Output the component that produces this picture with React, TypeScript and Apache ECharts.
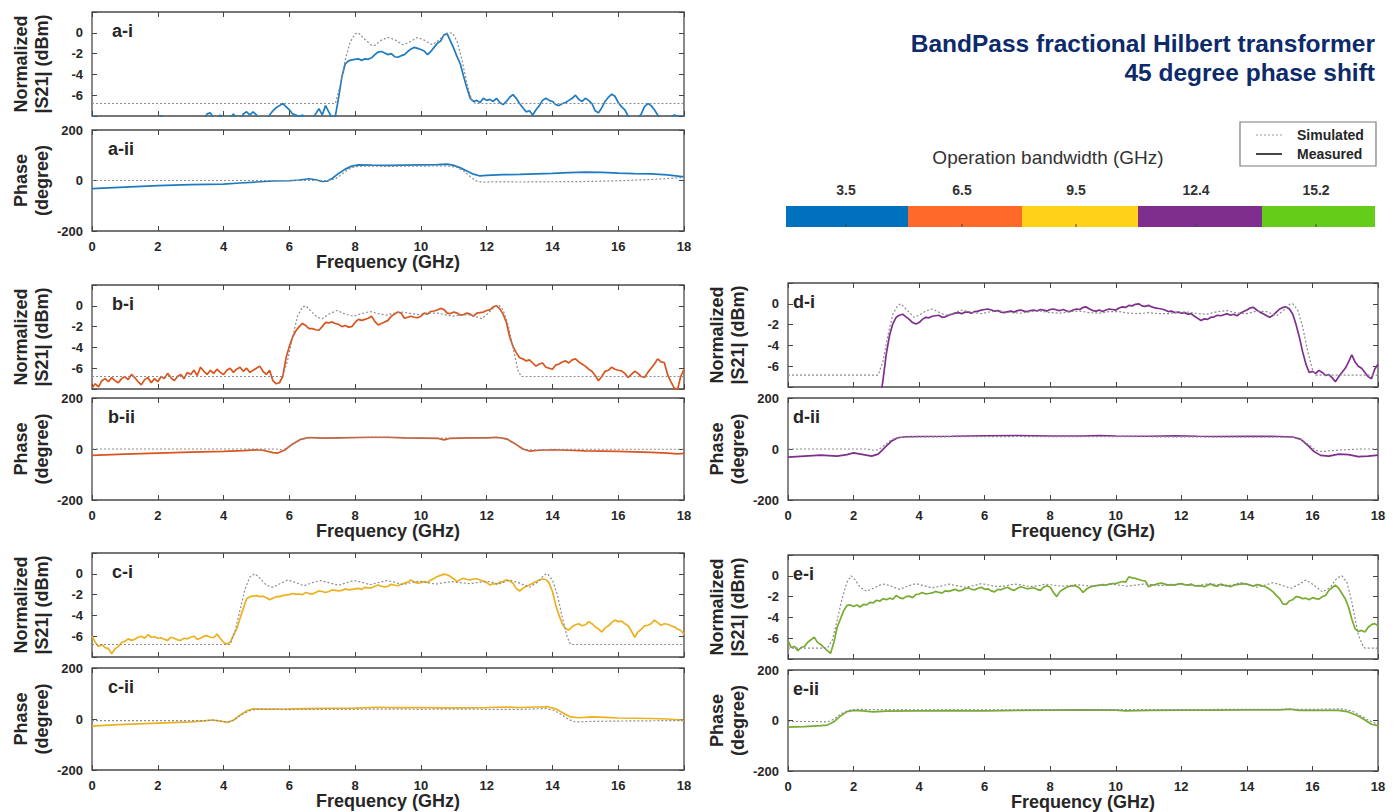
import React, { useEffect, useRef } from "react";
import * as echarts from "echarts";

const FONT = '"Liberation Sans", Arial, Helvetica, sans-serif';
const TEXT = "#262626";

// ---------- categories / labels ----------
const panelNames = ["a", "b", "c", "d", "e"];
const bandwidthLabels = ["3.5", "6.5", "9.5", "12.4", "15.2"];
const bandColors = ["#0072BD", "#FF6A2B", "#FFD21A", "#7E2F8E", "#66CC1A"];
const traceColors = ["#1f7bc0", "#d9541f", "#EDB120", "#7E2F8E", "#77AC30"];
const magTickLabels = ["0", "-2", "-4", "-6"];
const phaseTickLabels = ["200", "0", "-200"];

// ---------- measured |S21| (dB), sampled every 0.1 GHz from 0 to 18 GHz ----------
const magMeasA = [
  -8.0, -8.1, -8.6, -8.9, -8.7, -8.9, -9.0, -8.8, -8.9, -8.7,
  -8.8, -9.0, -8.7, -8.9, -8.8, -9.0, -8.8, -8.6, -8.9, -8.7,
  -8.5, -7.95, -8.4, -8.8, -8.9, -8.7, -9.0, -8.8, -8.9, -8.6,
  -8.8, -8.9, -8.7, -8.5, -8.3, -7.8, -7.7, -8.2, -8.5, -7.9,
  -8.4, -8.6, -8.2, -7.8, -8.3, -8.5, -7.8, -7.6, -7.9, -7.6,
  -7.9, -8.4, -8.6, -8.4, -7.9, -7.5, -7.2, -7.0, -6.8, -7.1,
  -7.4, -7.8, -7.9, -8.1, -7.9, -8.3, -8.6, -8.3, -7.8, -7.3,
  -7.9, -7.0, -7.6, -8.2, -8.0, -6.2, -4.2, -3.0, -2.7, -2.6,
  -2.55, -2.5, -2.65, -2.5, -2.55, -2.4, -2.1, -1.85, -1.8, -1.95,
  -2.1, -2.0, -2.3, -2.35, -2.2, -2.1, -1.8, -1.55, -1.4, -1.5,
  -1.6, -1.75, -2.1, -1.8, -1.4, -1.0, -0.8, -0.2, -0.1, -0.8,
  -1.5, -2.3, -3.0, -4.2, -5.3, -6.3, -6.6, -6.5, -6.7, -6.3,
  -6.5, -6.4, -6.6, -6.3, -6.7, -6.9, -6.6, -6.2, -5.95, -6.3,
  -6.8, -7.2, -7.6, -7.5, -7.9, -7.4, -7.0, -6.5, -6.3, -6.5,
  -6.6, -6.9, -7.0, -6.8, -6.7, -6.5, -6.3, -6.0, -6.4, -6.6,
  -6.3, -6.5, -6.8, -7.5, -7.7, -7.2, -6.6, -6.2, -5.9, -6.1,
  -6.7, -7.1, -7.4, -8.0, -8.3, -8.6, -8.2, -7.8, -7.1, -6.8,
  -7.0, -7.4, -7.9, -8.3, -8.6, -8.5, -8.2, -7.9, -8.0, -8.4,
  -8.0,
];
const magMeasB = [
  -7.9, -7.5, -7.8, -7.2, -7.0, -7.3, -6.9, -7.2, -7.4, -7.0,
  -6.8, -7.1, -6.6, -6.9, -7.3, -7.6, -7.1, -6.9, -7.4, -7.0,
  -7.3, -6.8, -7.0, -6.5, -6.9, -7.2, -6.8, -6.6, -7.0, -6.4,
  -6.6, -6.2, -6.7, -5.9, -6.3, -6.6, -6.2, -6.5, -6.1, -6.4,
  -6.6, -6.2, -6.0, -6.4, -6.1, -5.9, -6.3, -6.0, -6.4, -6.2,
  -6.0, -5.8, -6.3, -6.6, -6.2, -7.2, -7.5, -7.4, -6.8, -5.0,
  -3.9, -3.0, -2.4, -2.0, -1.7, -1.9, -2.2, -2.2, -2.3, -2.35,
  -2.0, -1.6, -1.65, -1.55, -1.7, -1.8, -2.0, -1.9, -2.05, -2.0,
  -1.6, -1.3, -1.4, -1.3, -1.2, -1.0, -1.5, -1.85, -1.7, -1.55,
  -1.4, -1.0, -0.8, -0.6, -0.7, -1.2, -1.1, -1.0, -1.1, -1.15,
  -1.0, -0.7, -0.8, -0.55, -0.5, -0.4, -0.25, -0.35, -0.7, -0.75,
  -0.6, -0.7, -0.9, -0.85, -0.7, -0.8, -1.0, -0.7, -0.65, -0.6,
  -0.45, -0.4, -0.1, 0.0, -0.3, -0.8, -1.6, -3.0, -3.9, -4.5,
  -5.0, -5.1, -5.3, -5.2, -5.5, -5.8, -5.6, -5.5, -5.9, -6.0,
  -6.1, -5.7, -5.6, -5.4, -5.3, -5.5, -5.2, -5.1, -5.4, -5.6,
  -5.8, -6.1, -6.3, -6.7, -7.2, -6.8, -6.3, -6.2, -5.9, -6.1,
  -6.2, -6.25, -6.5, -6.9, -6.6, -6.3, -6.5, -6.8, -6.9, -6.4,
  -6.0, -5.6, -5.1, -5.4, -5.45, -6.6, -7.3, -7.9, -8.1, -6.8,
  -6.1,
];
const magMeasC = [
  -6.0, -6.6, -7.0, -6.8, -7.1, -7.2, -7.7, -7.2, -7.0, -6.6,
  -6.5, -6.25, -6.4, -6.3, -6.1, -6.0, -6.2, -5.85, -6.1, -6.05,
  -6.2, -6.15, -6.3, -6.4, -6.1, -6.2, -6.35, -6.4, -6.2, -6.25,
  -6.1, -6.0, -6.3, -6.2, -6.0, -5.95, -6.1, -6.15, -5.8, -6.2,
  -6.6, -6.75, -6.6, -5.9, -5.3, -4.3, -3.35, -2.4, -2.2, -2.15,
  -2.1, -2.2, -2.15, -2.3, -2.5, -2.35, -2.2, -2.2, -2.1, -2.05,
  -2.0, -1.9, -1.95, -1.95, -2.0, -1.8, -1.9, -1.95, -1.8, -1.65,
  -1.7, -1.8, -1.7, -1.55, -1.6, -1.65, -1.6, -1.45, -1.55, -1.5,
  -1.45, -1.4, -1.5, -1.3, -1.35, -1.35, -1.2, -1.07, -1.2, -1.25,
  -1.2, -1.0, -1.1, -1.15, -1.0, -0.9, -0.8, -0.58, -0.8, -0.9,
  -0.85, -0.75, -0.85, -0.6, -0.45, -0.26, -0.15, -0.03, -0.1, -0.26,
  -0.5, -0.75, -0.55, -0.42, -0.55, -0.58, -0.5, -0.48, -0.6, -0.7,
  -0.85, -1.07, -0.95, -1.0, -0.8, -0.75, -0.58, -0.7, -0.9, -1.4,
  -1.65, -1.4, -1.2, -1.07, -0.9, -0.75, -0.6, -0.5, -0.55, -0.9,
  -1.7, -3.0, -4.0, -4.8, -5.3, -5.4, -5.1, -4.9, -4.8, -5.0,
  -4.9, -4.6, -4.8, -5.1, -5.3, -5.6, -5.2, -5.0, -4.7, -4.45,
  -4.6, -4.55, -4.8, -5.0, -5.5, -6.1, -5.6, -5.35, -5.0, -4.95,
  -4.8, -4.45, -4.7, -4.95, -4.8, -4.85, -5.0, -5.1, -5.3, -5.45,
  -5.8,
];
const magMeasD = [
  -10, -10, -10, -10, -10, -10, -10, -10, -10, -10,
  -10, -10, -10, -10, -10, -10, -10, -10, -10, -10,
  -10, -10, -10, -10, -10, -10, -10, -10, -9.5, -7.3,
  -4.8, -3.0, -1.9, -1.3, -1.1, -1.0, -1.25, -1.5, -1.8, -1.95,
  -1.8, -1.5, -1.3, -1.35, -1.2, -1.15, -1.1, -1.3, -1.25, -1.1,
  -1.0, -0.9, -0.85, -0.95, -0.8, -0.8, -0.9, -0.75, -0.7, -0.6,
  -0.55, -0.5, -0.6, -0.7, -0.65, -0.8, -0.85, -0.75, -0.7, -0.8,
  -0.65, -0.6, -0.7, -0.75, -0.65, -0.6, -0.7, -0.55, -0.6, -0.7,
  -0.55, -0.5, -0.6, -0.65, -0.55, -0.7, -0.75, -0.6, -0.5, -0.55,
  -0.35, -0.3, -0.5, -0.65, -0.7, -0.6, -0.75, -0.6, -0.5, -0.55,
  -0.6, -0.4, -0.3, -0.35, -0.15, -0.2, -0.05, 0.0, -0.2, -0.25,
  -0.15, -0.3, -0.4, -0.45, -0.5, -0.6, -0.75, -0.7, -0.85, -0.8,
  -0.9, -0.85, -1.0, -0.95, -1.2, -1.4, -1.6, -1.45, -1.5, -1.3,
  -1.25, -1.1, -1.15, -1.05, -0.95, -1.1, -1.0, -1.15, -0.9, -0.75,
  -0.6, -0.4, -0.35, -0.6, -0.8, -0.95, -1.15, -1.3, -1.1, -0.8,
  -0.5, -0.35, -0.3, -0.5, -1.0, -2.0, -3.2, -4.6, -5.8, -6.6,
  -6.5, -6.7, -6.4, -6.6, -6.9, -6.8, -7.1, -7.5, -7.0, -6.6,
  -6.2, -5.6, -4.9, -5.6, -6.0, -6.2, -6.6, -7.0, -7.2, -6.3,
  -5.8,
];
const magMeasE = [
  -6.25, -6.9, -6.8, -7.2, -6.9, -6.8, -6.4, -6.15, -5.9, -6.4,
  -6.6, -6.9, -7.2, -7.45, -6.4, -4.95, -4.15, -3.35, -2.85, -2.8,
  -2.95, -2.8, -3.0, -2.75, -2.8, -2.55, -2.6, -2.35, -2.45, -2.2,
  -2.3, -2.15, -2.25, -1.9, -2.1, -2.2, -2.0, -1.95, -2.1, -1.8,
  -1.75, -1.6, -1.75, -1.7, -1.65, -1.5, -1.6, -1.65, -1.45, -1.5,
  -1.4, -1.3, -1.45, -1.4, -1.25, -1.15, -1.3, -1.35, -1.2, -1.1,
  -1.3, -1.25, -1.45, -1.55, -1.3, -1.35, -1.2, -1.1, -1.3, -1.4,
  -1.2, -1.05, -1.15, -1.25, -1.2, -1.15, -1.3, -1.4, -1.1, -0.95,
  -1.1, -1.6, -2.0, -1.5, -1.3, -1.1, -1.0, -0.95, -1.0, -1.2,
  -1.6, -1.3, -1.1, -1.0, -0.95, -0.9, -0.85, -0.9, -0.8, -0.75,
  -0.75, -0.65, -0.55, -0.6, -0.1, -0.2, -0.25, -0.35, -0.45, -0.5,
  -1.05, -0.9, -0.85, -0.75, -0.7, -0.8, -0.9, -0.85, -0.9, -0.8,
  -0.75, -0.85, -0.9, -0.8, -0.95, -1.0, -0.95, -1.05, -0.9, -0.8,
  -0.95, -1.0, -0.8, -0.9, -0.95, -1.05, -0.9, -0.85, -0.8, -0.75,
  -0.8, -0.9, -1.0, -0.85, -0.9, -1.0, -1.1, -1.3, -1.55, -1.9,
  -2.2, -2.7, -2.75, -2.4, -2.3, -2.0, -2.05, -2.2, -2.15, -2.3,
  -2.1, -2.2, -2.25, -2.0, -1.9, -1.4, -1.15, -0.9, -1.2, -1.7,
  -2.2, -3.0, -4.15, -5.1, -5.35, -5.25, -5.4, -4.95, -4.7, -4.6,
  -4.8,
];

// ---------- simulated |S21| (dB), [GHz, dB] ----------
const magSimA: [number, number][] = [
  [0, -6.8], [7.4, -6.8], [7.55, -5.0], [7.7, -2.6], [7.85, -0.9], [8.0, -0.1], [8.1, 0], [8.25, -0.5],
  [8.5, -1.2], [8.6, -1.2], [8.8, -0.7], [9.0, -0.45], [9.2, -0.65], [9.45, -1.15], [9.65, -0.9], [9.9, -0.45],
  [10.1, -0.7], [10.35, -1.15], [10.55, -0.7], [10.75, -0.05], [10.95, 0], [11.1, -0.8], [11.25, -2.6],
  [11.4, -4.9], [11.55, -6.5], [11.65, -6.8], [18, -6.8],
];
const magSimB: [number, number][] = [
  [0, -6.8], [5.8, -6.8], [5.95, -5.2], [6.1, -3.0], [6.25, -1.0], [6.4, -0.1], [6.5, 0], [6.65, -0.5],
  [6.85, -1.1], [7.0, -1.25], [7.2, -0.8], [7.45, -0.45], [7.7, -0.8], [7.95, -1.0], [8.2, -0.75], [8.45, -0.55],
  [8.7, -0.75], [8.95, -0.9], [9.2, -0.7], [9.45, -0.6], [9.7, -0.75], [9.95, -0.85], [10.2, -0.7], [10.5, -0.7],
  [10.8, -0.9], [11.0, -1.0], [11.3, -0.85], [11.55, -0.9], [11.85, -1.25], [12.05, -0.7], [12.25, -0.05],
  [12.4, 0], [12.5, -0.4], [12.65, -1.8], [12.8, -4.0], [12.95, -6.2], [13.05, -6.8], [18, -6.8],
];
const magSimC: [number, number][] = [
  [0, -6.8], [4.2, -6.8], [4.35, -5.5], [4.5, -3.5], [4.65, -1.5], [4.8, -0.3], [4.95, 0], [5.1, -0.4],
  [5.3, -1.1], [5.5, -1.3], [5.75, -0.9], [5.95, -0.6], [6.2, -0.85], [6.45, -1.15], [6.7, -0.85], [6.95, -0.65],
  [7.2, -0.85], [7.5, -1.1], [7.7, -0.9], [7.95, -0.65], [8.2, -0.8], [8.45, -1.05], [8.7, -0.85], [8.95, -0.65],
  [9.2, -0.8], [9.45, -1.05], [9.7, -0.85], [9.95, -0.7], [10.2, -0.85], [10.45, -1.0], [10.7, -0.85],
  [10.95, -0.75], [11.2, -0.85], [11.5, -0.95], [11.8, -0.8], [12.1, -0.75], [12.35, -1.0], [12.7, -0.6],
  [13.0, -0.9], [13.3, -1.3], [13.55, -0.8], [13.75, -0.1], [13.85, 0], [14.0, -0.6], [14.15, -2.0],
  [14.3, -4.2], [14.45, -6.1], [14.55, -6.8], [18, -6.8],
];
const magSimD: [number, number][] = [
  [0, -6.85], [2.75, -6.85], [2.9, -5.5], [3.05, -3.0], [3.2, -1.0], [3.35, -0.15], [3.45, 0], [3.6, -0.5],
  [3.85, -1.3], [4.0, -1.1], [4.2, -0.7], [4.4, -0.5], [4.6, -0.8], [4.8, -1.1], [5.0, -0.95], [5.3, -0.6],
  [5.6, -0.8], [5.9, -0.95], [6.2, -0.75], [6.5, -0.7], [6.8, -0.85], [7.1, -0.9], [7.4, -0.75], [7.7, -0.7],
  [8.0, -0.85], [8.3, -0.9], [8.6, -0.75], [8.9, -0.7], [9.2, -0.85], [9.5, -0.9], [9.8, -0.75], [10.1, -0.75],
  [10.4, -0.9], [10.7, -0.95], [11.0, -0.85], [11.3, -0.95], [11.6, -0.95], [11.9, -0.8], [12.2, -0.8],
  [12.5, -0.95], [12.8, -1.0], [13.1, -0.75], [13.4, -0.65], [13.7, -0.9], [14.0, -0.95], [14.3, -0.7],
  [14.6, -0.75], [14.9, -1.15], [15.1, -0.7], [15.3, -0.05], [15.4, 0], [15.55, -0.6], [15.7, -2.2],
  [15.85, -4.5], [16.0, -6.3], [16.1, -6.85], [18, -6.85],
];
const magSimE: [number, number][] = [
  [0, -6.95], [1.2, -6.95], [1.35, -6.2], [1.5, -4.3], [1.65, -2.2], [1.8, -0.6], [1.93, 0], [2.05, -0.4],
  [2.2, -1.1], [2.4, -1.48], [2.6, -1.2], [2.8, -0.9], [2.95, -0.8], [3.15, -1.0], [3.4, -1.3], [3.65, -1.0],
  [3.9, -0.75], [4.15, -0.95], [4.4, -1.15], [4.65, -1.0], [4.9, -0.8], [5.15, -0.95], [5.4, -1.1],
  [5.65, -0.95], [5.9, -0.75], [6.15, -0.9], [6.4, -1.05], [6.65, -0.95], [6.9, -0.8], [7.15, -0.9],
  [7.4, -1.05], [7.65, -0.95], [7.85, -0.8], [8.1, -0.9], [8.35, -1.0], [8.6, -0.95], [8.8, -0.85],
  [9.1, -0.95], [9.35, -1.0], [9.6, -0.9], [9.85, -0.8], [10.1, -0.9], [10.35, -1.0], [10.6, -0.9],
  [10.85, -0.8], [11.1, -0.85], [11.35, -0.95], [11.6, -0.9], [11.85, -0.8], [12.1, -0.85], [12.35, -0.95],
  [12.6, -0.9], [12.85, -0.75], [13.1, -0.85], [13.35, -1.0], [13.6, -0.85], [13.8, -0.65], [14.05, -0.85],
  [14.3, -1.1], [14.55, -0.9], [14.8, -0.65], [15.05, -0.9], [15.35, -1.2], [15.6, -0.8], [15.8, -0.4],
  [16.05, -0.9], [16.3, -1.55], [16.55, -1.1], [16.75, -0.2], [16.9, 0], [17.05, -0.6], [17.2, -2.5],
  [17.4, -5.7], [17.55, -6.8], [17.6, -6.95], [18, -6.95],
];

// ---------- phase (degree), [GHz, deg] ----------
const phMeasA: [number, number][] = [
  [0, -32], [1, -26], [2, -20], [3, -16], [4, -14], [4.5, -10], [5, -6], [5.5, -2], [6, -1], [6.3, 2],
  [6.6, 7], [6.8, 3], [7.0, -4], [7.15, -3], [7.3, 8], [7.5, 28], [7.7, 45], [7.9, 57], [8.1, 62], [8.5, 61],
  [9, 60], [9.5, 61], [10, 62], [10.5, 63], [10.8, 65], [11.0, 60], [11.2, 50], [11.4, 38], [11.6, 25],
  [11.8, 18], [12.0, 20], [12.5, 23], [13, 24], [13.5, 26], [14, 28], [14.5, 31], [15, 33], [15.5, 32],
  [16, 29], [16.5, 27], [17, 26], [17.5, 22], [18, 14],
];
const phSimA: [number, number][] = [
  [0, 0], [7.2, 0], [7.4, 6], [7.6, 25], [7.8, 45], [8.0, 55], [8.3, 57], [9, 56], [10, 57], [10.8, 58],
  [11.1, 52], [11.3, 38], [11.5, 15], [11.7, -3], [11.9, -7], [12.2, -5], [13, -6], [14, -5], [15, -4],
  [16, -1], [17, 4], [18, 12],
];
const phMeasB: [number, number][] = [
  [0, -25], [1, -20], [2, -16], [3, -12], [4, -9], [4.6, -6], [5.0, -3], [5.2, -5], [5.5, -14], [5.65, -16],
  [5.85, -5], [6.1, 20], [6.35, 38], [6.6, 45], [7, 43], [7.5, 44], [8, 45], [8.5, 46], [9, 46], [9.5, 44],
  [10, 43], [10.5, 42], [10.7, 36], [10.9, 42], [11.5, 44], [12, 44], [12.3, 46], [12.6, 40], [12.85, 22],
  [13.1, 0], [13.3, -8], [13.6, -5], [14, -3], [14.5, -5], [15, -7], [15.5, -8], [16, -9], [16.5, -11],
  [17, -13], [17.5, -16], [17.8, -19], [18, -17],
];
const phSimB: [number, number][] = [
  [0, 0], [5.6, 0], [5.75, -3], [5.9, 0], [6.15, 22], [6.4, 40], [6.6, 44], [7, 42], [8, 44], [9, 45],
  [10, 43], [11, 43], [12, 44], [12.5, 43], [12.75, 30], [12.95, 12], [13.15, -2], [13.4, -4], [13.8, -2],
  [14.5, -1], [18, -1],
];
const phMeasC: [number, number][] = [
  [0, -28], [0.5, -24], [1, -21], [2, -16], [3, -11], [3.4, -7], [3.65, -4], [3.9, -8], [4.1, -13], [4.3, -5],
  [4.5, 15], [4.7, 32], [4.9, 40], [5.2, 39], [6, 40], [7, 42], [8, 43], [8.7, 46], [9, 45], [10, 45],
  [11, 44], [12, 45], [12.6, 47], [13, 45], [13.5, 47], [13.85, 48], [14.1, 40], [14.3, 25], [14.55, 8],
  [14.8, 5], [15.2, 8], [15.6, 6], [16, 4], [17, 2], [17.5, 0], [18, -5],
];
const phSimC: [number, number][] = [
  [0, -6], [3.5, -6], [3.7, -4], [3.95, -9], [4.15, -12], [4.35, -2], [4.55, 18], [4.8, 33], [5, 38],
  [6, 37], [7, 38], [8, 38], [9, 39], [10, 38], [11, 39], [12, 38], [13, 38], [13.8, 41], [14.05, 34],
  [14.3, 15], [14.5, -2], [14.7, -12], [15, -10], [15.5, -9], [16, -8], [17, -7], [18, -6],
];
const phMeasD: [number, number][] = [
  [0, -32], [0.5, -28], [1, -24], [1.5, -28], [1.8, -22], [2.0, -15], [2.3, -22], [2.55, -28], [2.75, -20],
  [2.95, 5], [3.15, 30], [3.35, 44], [3.6, 48], [4, 49], [5, 50], [6, 52], [7, 53], [8, 51], [9, 51],
  [9.5, 53], [10, 51], [11, 50], [11.8, 52], [12.5, 50], [13, 49], [14, 50], [15, 49], [15.4, 47],
  [15.65, 38], [15.85, 15], [16.05, -10], [16.25, -25], [16.5, -28], [16.8, -20], [17.1, -22], [17.4, -30],
  [17.7, -28], [18, -24],
];
const phSimD: [number, number][] = [
  [0, 0], [2.4, 0], [2.6, -5], [2.75, -3], [2.95, 15], [3.15, 36], [3.35, 45], [3.6, 47], [5, 48], [7, 49],
  [9, 48], [11, 48], [13, 47], [15, 47], [15.5, 45], [15.7, 35], [15.9, 15], [16.1, -5], [16.3, -10],
  [16.6, -6], [17, -3], [17.5, 0], [18, 0],
];
const phMeasE: [number, number][] = [
  [0, -26], [0.5, -24], [1.0, -20], [1.2, -18], [1.4, -5], [1.6, 18], [1.8, 35], [2.0, 40], [2.3, 38],
  [2.6, 34], [3, 37], [4, 38], [5, 39], [6, 38], [7, 40], [8, 41], [9, 42], [10, 41], [10.3, 38], [11, 40],
  [12, 41], [13, 41], [14, 42], [15, 42], [15.3, 45], [15.6, 40], [16, 40], [16.8, 40], [17.1, 34],
  [17.4, 18], [17.6, 2], [17.8, -15], [18, -20],
];
const phSimE: [number, number][] = [
  [0, -4], [0.9, -4], [1.2, -6], [1.4, 5], [1.6, 25], [1.85, 40], [2.1, 44], [3, 43], [5, 42], [8, 43],
  [11, 43], [14, 44], [16, 44], [16.9, 46], [17.2, 38], [17.45, 20], [17.7, 2], [17.9, -10], [18, -12],
];

const magMeasured = [magMeasA, magMeasB, magMeasC, magMeasD, magMeasE];
const magSimulated = [magSimA, magSimB, magSimC, magSimD, magSimE];
const phMeasured = [phMeasA, phMeasB, phMeasC, phMeasD, phMeasE];
const phSimulated = [phSimA, phSimB, phSimC, phSimD, phSimE];

// ---------- layout (pixels) ----------
type Rect = [number, number, number, number];
const LAYOUT: { mag: Rect; ph: Rect }[] = [
  { mag: [92, 12, 592, 104], ph: [92, 130, 592, 101] },
  { mag: [92, 285, 592, 104], ph: [92, 398, 592, 102] },
  { mag: [92, 553, 592, 104], ph: [92, 668, 592, 102] },
  { mag: [788, 283, 590, 104], ph: [788, 398, 590, 102] },
  { mag: [788, 555, 590, 104], ph: [788, 670, 590, 101] },
];

function txt(
  text: string,
  x: number,
  y: number,
  size: number,
  opts: { weight?: string; align?: string; vAlign?: string; color?: string; rotation?: number } = {}
) {
  const align = opts.align || "center";
  const vAlign = opts.vAlign || "middle";
  return {
    type: "text",
    x,
    y,
    rotation: opts.rotation || 0,
    silent: true,
    style: {
      text,
      fill: opts.color || TEXT,
      fontSize: size,
      fontWeight: opts.weight || "bold",
      fontFamily: FONT,
      align,
      verticalAlign: vAlign,
      textAlign: align,
      textVerticalAlign: vAlign,
    },
  };
}

function buildOption() {
  const grid: any[] = [];
  const xAxis: any[] = [];
  const yAxis: any[] = [];
  const series: any[] = [];
  const graphic: any[] = [];

  const tickStyle = { show: true, inside: true, length: 5, lineStyle: { color: "#444", width: 1 } };
  const labelStyle = { fontSize: 13, fontWeight: "bold", color: TEXT, fontFamily: FONT };

  let g = 0;
  LAYOUT.forEach((lay, p) => {
    (["mag", "ph"] as const).forEach((kind) => {
      const [left, top, width, height] = lay[kind];
      grid.push({
        left,
        top,
        width,
        height,
        show: true,
        borderColor: "#4a4a4a",
        borderWidth: 1.3,
        backgroundColor: "#fff",
        containLabel: false,
      });
      const isMag = kind === "mag";
      const baseX = {
        type: "value",
        gridIndex: g,
        min: 0,
        max: 18,
        interval: 2,
        axisLine: { show: false, onZero: false },
        axisTick: tickStyle,
        splitLine: { show: false },
      };
      xAxis.push({
        ...baseX,
        position: "bottom",
        axisLabel: { show: !isMag, margin: 9, ...labelStyle },
      });
      xAxis.push({ ...baseX, position: "top", axisLabel: { show: false } });
      const allowed = isMag ? magTickLabels : phaseTickLabels;
      const baseY = {
        type: "value",
        gridIndex: g,
        min: isMag ? -8 : -200,
        max: isMag ? 2 : 200,
        interval: isMag ? 2 : 200,
        axisLine: { show: false, onZero: false },
        axisTick: tickStyle,
        splitLine: { show: false },
      };
      yAxis.push({
        ...baseY,
        position: "left",
        axisLabel: {
          show: true,
          margin: 9,
          ...labelStyle,
          formatter: (v: number) => (allowed.includes(String(v)) ? String(v) : ""),
        },
      });
      yAxis.push({ ...baseY, position: "right", axisLabel: { show: false } });

      const measuredData = isMag
        ? magMeasured[p].map((v, i) => [i / 10, v])
        : phMeasured[p];
      const simData = isMag ? magSimulated[p] : phSimulated[p];
      series.push({
        type: "line",
        name: `${panelNames[p]}-${isMag ? "i" : "ii"} Measured`,
        xAxisIndex: 2 * g,
        yAxisIndex: 2 * g,
        data: measuredData,
        showSymbol: false,
        symbol: "none",
        clip: true,
        lineStyle: { color: traceColors[p], width: 1.7 },
        z: 2,
      });
      series.push({
        type: "line",
        name: `${panelNames[p]}-${isMag ? "i" : "ii"} Simulated`,
        xAxisIndex: 2 * g,
        yAxisIndex: 2 * g,
        data: simData,
        showSymbol: false,
        symbol: "none",
        clip: true,
        lineStyle: { color: "#8c8c8c", width: 1.2, type: [2, 2] },
        z: 3,
      });

      // panel label
      const rightCol = left > 400;
      const lx = rightCol ? left + 5 : left + (isMag ? 20 : 16);
      graphic.push(txt(`${panelNames[p]}-${isMag ? "i" : "ii"}`, lx, top + 19, 18, { align: "left" }));
      // y-axis names
      const cy = top + height / 2;
      if (isMag) {
        graphic.push(txt("Normalized", left - 71, cy, 18, { rotation: Math.PI / 2 }));
        graphic.push(txt("|S21| (dBm)", left - 50, cy, 18, { rotation: Math.PI / 2 }));
      } else {
        graphic.push(txt("Phase", left - 71, cy, 18, { rotation: Math.PI / 2 }));
        graphic.push(txt("(degree)", left - 50, cy, 18, { rotation: Math.PI / 2 }));
        graphic.push(txt("Frequency (GHz)", left + width / 2, top + height + 31, 18));
      }
      g++;
    });
  });

  // title
  graphic.push(txt("BandPass fractional Hilbert transformer", 1375, 43, 24.5, { align: "right", color: "#0d2a6b" }));
  graphic.push(txt("45 degree phase shift", 1375, 72, 24.5, { align: "right", color: "#0d2a6b" }));

  // legend
  graphic.push({
    type: "rect",
    shape: { x: 1240, y: 122, width: 136, height: 44 },
    style: { fill: "#fff", stroke: "#7a7a7a", lineWidth: 1.2 },
    silent: true,
  });
  graphic.push({
    type: "line",
    shape: { x1: 1256, y1: 135, x2: 1282, y2: 135 },
    style: { stroke: "#9a9a9a", lineWidth: 1.2, lineDash: [2, 2] },
    silent: true,
  });
  graphic.push({
    type: "line",
    shape: { x1: 1256, y1: 154, x2: 1282, y2: 154 },
    style: { stroke: "#1a1a1a", lineWidth: 1.6 },
    silent: true,
  });
  graphic.push(txt("Simulated", 1297, 135, 14, { align: "left" }));
  graphic.push(txt("Measured", 1297, 154, 14, { align: "left" }));

  // colour bar
  graphic.push(txt("Operation bandwidth (GHz)", 1048, 157, 19, { weight: "normal", color: "#333" }));
  const edges = [786, 908, 1022, 1138, 1262, 1375];
  const labelX = [846, 962, 1076, 1196, 1316];
  bandColors.forEach((c, i) => {
    graphic.push({
      type: "rect",
      shape: { x: edges[i], y: 206, width: edges[i + 1] - edges[i], height: 21 },
      style: { fill: c },
      silent: true,
    });
    graphic.push({
      type: "line",
      shape: { x1: labelX[i], y1: 224, x2: labelX[i], y2: 227 },
      style: { stroke: "#444", lineWidth: 1 },
      silent: true,
    });
    graphic.push(txt(bandwidthLabels[i], labelX[i], 190, 14, { color: "#333" }));
  });

  return {
    animation: false,
    backgroundColor: "#ffffff",
    grid,
    xAxis,
    yAxis,
    series,
    graphic,
  };
}

export default function App() {
  const ref = useRef<HTMLDivElement | null>(null);
  useEffect(() => {
    if (!ref.current) return;
    const chart = echarts.init(ref.current, undefined, { renderer: "svg" });
    chart.setOption(buildOption() as any);
    return () => chart.dispose();
  }, []);
  return (
    <div
      ref={ref}
      style={{ position: "absolute", left: 0, top: 0, width: 1397, height: 812, background: "#fff" }}
    />
  );
}
